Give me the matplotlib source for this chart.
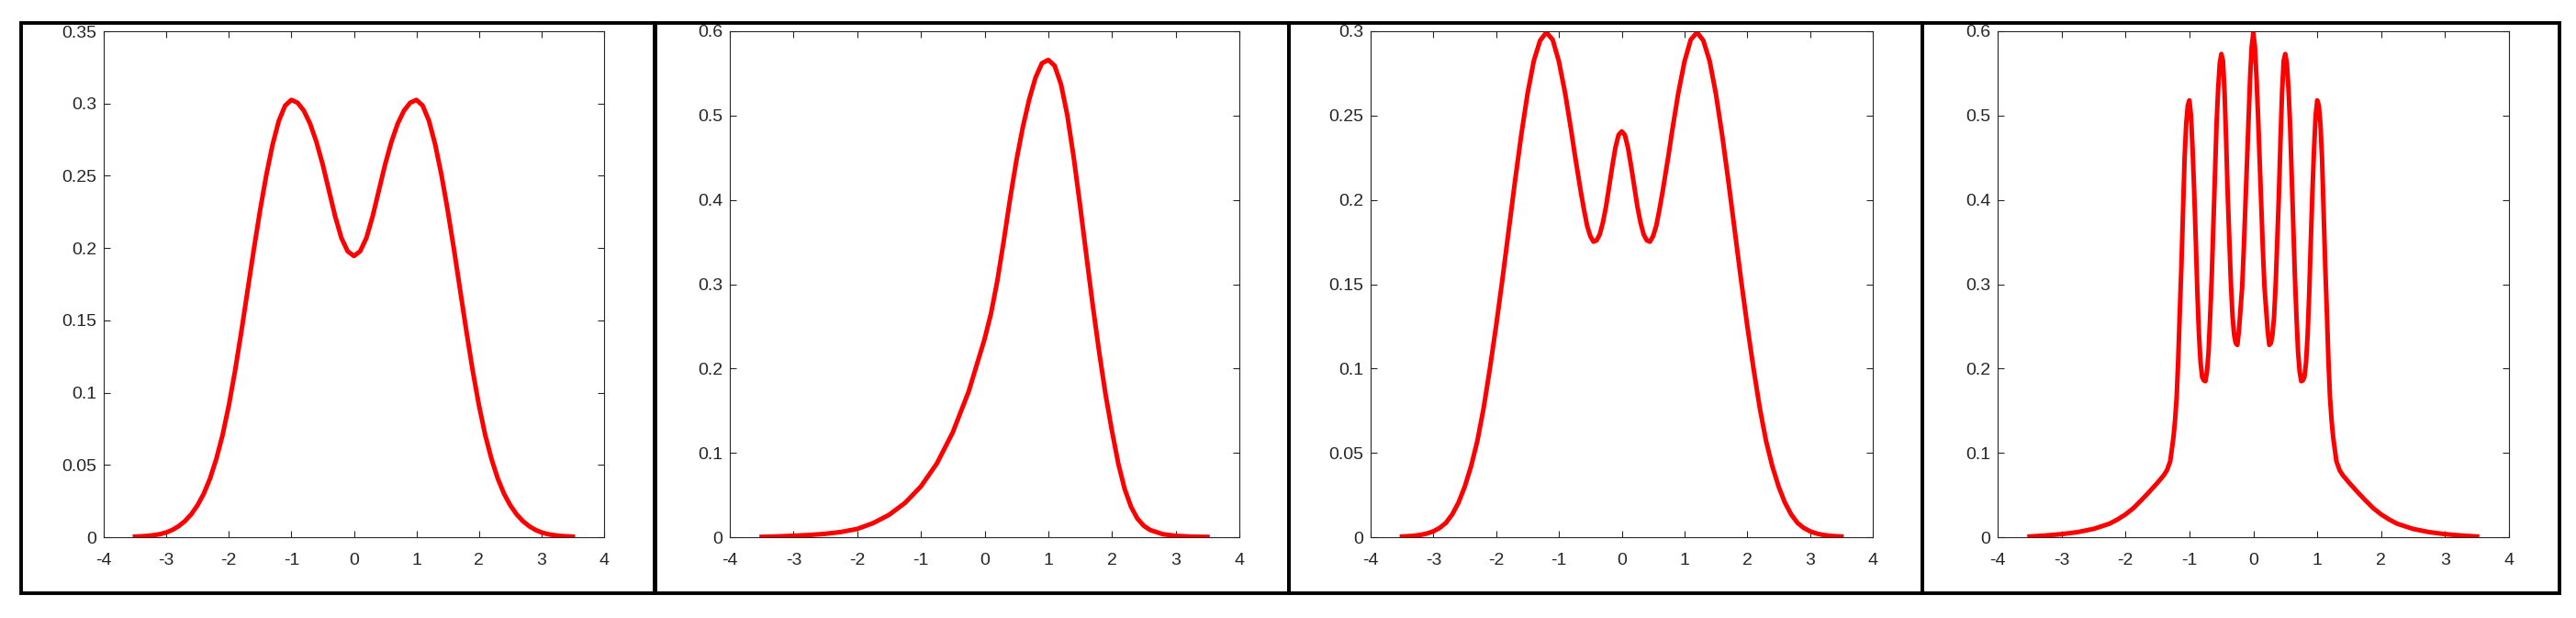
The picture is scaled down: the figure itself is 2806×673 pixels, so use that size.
import numpy as np
import matplotlib
matplotlib.use("Agg")
import matplotlib.pyplot as plt
from matplotlib.patches import Rectangle
from matplotlib.ticker import FixedLocator, FormatStrFormatter

plt.rcParams["font.family"] = ["Liberation Sans Narrow", "Liberation Sans", "DejaVu Sans"]
plt.rcParams["axes.unicode_minus"] = False

W, H = 2806, 673

# panel 1: symmetric two-hump density
x1 = [-3.5, -3.4, -3.3, -3.2, -3.1, -3.0, -2.9, -2.8, -2.7, -2.6, -2.5, -2.4, -2.3, -2.2, -2.1,
      -2.0, -1.9, -1.8, -1.7, -1.6, -1.5, -1.4, -1.3, -1.2, -1.1, -1.0, -0.9, -0.8, -0.7, -0.6,
      -0.5, -0.4, -0.3, -0.2, -0.1, 0.0, 0.1, 0.2, 0.3, 0.4, 0.5, 0.6, 0.7, 0.8, 0.9, 1.0, 1.1,
      1.2, 1.3, 1.4, 1.5, 1.6, 1.7, 1.8, 1.9, 2.0, 2.1, 2.2, 2.3, 2.4, 2.5, 2.6, 2.7, 2.8, 2.9,
      3.0, 3.1, 3.2, 3.3, 3.4, 3.5]
y1 = [0.0004, 0.0006, 0.0009, 0.0014, 0.0021, 0.0033, 0.0051, 0.0077, 0.0112, 0.0159, 0.0221,
      0.0301, 0.0406, 0.0541, 0.0706, 0.0911, 0.1151, 0.1421, 0.1706, 0.1991, 0.2261, 0.2506,
      0.2716, 0.2881, 0.2985, 0.3025, 0.3005, 0.2950, 0.2860, 0.2735, 0.2580, 0.2400, 0.2220,
      0.2070, 0.1978, 0.1945, 0.1978, 0.2070, 0.2220, 0.2400, 0.2580, 0.2735, 0.2860, 0.2950,
      0.3005, 0.3025, 0.2985, 0.2881, 0.2716, 0.2506, 0.2261, 0.1991, 0.1706, 0.1421, 0.1151,
      0.0911, 0.0706, 0.0541, 0.0406, 0.0301, 0.0221, 0.0159, 0.0112, 0.0077, 0.0051, 0.0033,
      0.0021, 0.0014, 0.0009, 0.0006, 0.0004]

# panel 2: skewed single peak
x2 = [-3.5, -3.25, -3.0, -2.75, -2.5, -2.25, -2.0, -1.75, -1.5, -1.25, -1.0, -0.75, -0.5,
      -0.25, 0.0, 0.1, 0.2, 0.3, 0.4, 0.5, 0.6, 0.7, 0.8, 0.9, 1.0, 1.1, 1.2, 1.3, 1.4, 1.5,
      1.6, 1.7, 1.8, 1.9, 2.0, 2.1, 2.2, 2.3, 2.4, 2.5, 2.6, 2.8, 3.0, 3.25, 3.5]
y2 = [0.0004, 0.0009, 0.0017, 0.0026, 0.0040, 0.0062, 0.0098, 0.0167, 0.0265, 0.0406, 0.0602,
      0.0873, 0.1242, 0.1727, 0.2350, 0.2650, 0.3040, 0.3510, 0.4010, 0.4470, 0.4860, 0.5190,
      0.5450, 0.5620, 0.5660, 0.5590, 0.5370, 0.5000, 0.4500, 0.3930, 0.3330, 0.2740, 0.2190,
      0.1690, 0.1260, 0.0870, 0.0570, 0.0360, 0.0220, 0.0135, 0.0085, 0.0035, 0.0016, 0.0007,
      0.0003]

# panel 3: three humps
x3 = [-3.5, -3.4, -3.3, -3.2, -3.1, -3.0, -2.9, -2.8, -2.7, -2.6, -2.5, -2.4, -2.3, -2.2, -2.1,
      -2.0, -1.9, -1.8, -1.7, -1.6, -1.5, -1.4, -1.3, -1.2, -1.1, -1.0, -0.9, -0.8, -0.75, -0.7,
      -0.65, -0.6, -0.55, -0.5, -0.45, -0.4, -0.35, -0.3, -0.25, -0.2, -0.15, -0.1, -0.05, 0.0,
      0.05, 0.1, 0.15, 0.2, 0.25, 0.3, 0.35, 0.4, 0.45, 0.5, 0.55, 0.6, 0.65, 0.7, 0.75, 0.8,
      0.9, 1.0, 1.1, 1.2, 1.3, 1.4, 1.5, 1.6, 1.7, 1.8, 1.9, 2.0, 2.1, 2.2, 2.3, 2.4, 2.5, 2.6,
      2.7, 2.8, 2.9, 3.0, 3.1, 3.2, 3.3, 3.4, 3.5]
y3 = [0.0004, 0.0006, 0.0009, 0.0014, 0.0022, 0.0035, 0.0055, 0.0085, 0.0135, 0.0205, 0.0300,
      0.0420, 0.0570, 0.0765, 0.1000, 0.1255, 0.1530, 0.1820, 0.2110, 0.2385, 0.2630, 0.2825,
      0.2945, 0.2993, 0.2950, 0.2820, 0.2630, 0.2400, 0.2275, 0.2160, 0.2045, 0.1940, 0.1845,
      0.1785, 0.1752, 0.1760, 0.1795, 0.1865, 0.1960, 0.2080, 0.2200, 0.2310, 0.2385, 0.2406,
      0.2385, 0.2310, 0.2200, 0.2080, 0.1960, 0.1865, 0.1795, 0.1760, 0.1752, 0.1785, 0.1845,
      0.1940, 0.2045, 0.2160, 0.2275, 0.2400, 0.2630, 0.2820, 0.2950, 0.2993, 0.2945, 0.2825,
      0.2630, 0.2385, 0.2110, 0.1820, 0.1530, 0.1255, 0.1000, 0.0765, 0.0570, 0.0420, 0.0300,
      0.0205, 0.0135, 0.0085, 0.0055, 0.0035, 0.0022, 0.0014, 0.0009, 0.0006, 0.0004]

# panel 4: five narrow peaks on broad tails
x4 = [-3.5, -3.25, -3.0, -2.75, -2.5, -2.25, -2.125, -2.0, -1.875, -1.75, -1.625, -1.5, -1.4,
      -1.35, -1.3, -1.25, -1.225, -1.2, -1.175, -1.15, -1.125, -1.1, -1.075, -1.05, -1.025,
      -1.0, -0.975, -0.95, -0.925, -0.9, -0.875, -0.85, -0.825, -0.8, -0.775, -0.75, -0.725,
      -0.7, -0.675, -0.65, -0.625, -0.6, -0.575, -0.55, -0.525, -0.5, -0.475, -0.45, -0.425,
      -0.4, -0.375, -0.35, -0.325, -0.3, -0.275, -0.25, -0.225, -0.2, -0.175, -0.15, -0.125,
      -0.1, -0.075, -0.05, -0.025, 0.0, 0.025, 0.05, 0.075, 0.1, 0.125, 0.15, 0.175, 0.2,
      0.225, 0.25, 0.275, 0.3, 0.325, 0.35, 0.375, 0.4, 0.425, 0.45, 0.475, 0.5, 0.525, 0.55,
      0.575, 0.6, 0.625, 0.65, 0.675, 0.7, 0.725, 0.75, 0.775, 0.8, 0.825, 0.85, 0.875, 0.9,
      0.925, 0.95, 0.975, 1.0, 1.025, 1.05, 1.075, 1.1, 1.125, 1.15, 1.175, 1.2, 1.225, 1.25,
      1.3, 1.35, 1.4, 1.5, 1.625, 1.75, 1.875, 2.0, 2.125, 2.25, 2.5, 2.75, 3.0, 3.25, 3.5]
y4 = [0.0008, 0.0020, 0.0036, 0.0060, 0.0098, 0.0160, 0.0210, 0.0270, 0.0345, 0.0440, 0.0540,
      0.0645, 0.0735, 0.0795, 0.0900, 0.1180, 0.1380, 0.1650, 0.2100, 0.2680, 0.3220, 0.3850,
      0.4500, 0.4900, 0.5120, 0.5180, 0.5000, 0.4600, 0.4100, 0.3520, 0.2900, 0.2400, 0.2070,
      0.1900, 0.1860, 0.1850, 0.1960, 0.2200, 0.2620, 0.3100, 0.3700, 0.4300, 0.4900, 0.5320,
      0.5620, 0.5730, 0.5650, 0.5280, 0.4700, 0.4050, 0.3520, 0.3000, 0.2620, 0.2400, 0.2300,
      0.2280, 0.2450, 0.2700, 0.2960, 0.3400, 0.3920, 0.4450, 0.4980, 0.5450, 0.5820, 0.5980,
      0.5820, 0.5450, 0.4980, 0.4450, 0.3920, 0.3400, 0.2960, 0.2700, 0.2450, 0.2280, 0.2300,
      0.2400, 0.2620, 0.3000, 0.3520, 0.4050, 0.4700, 0.5280, 0.5650, 0.5730, 0.5620, 0.5320,
      0.4900, 0.4300, 0.3700, 0.3100, 0.2620, 0.2200, 0.1960, 0.1850, 0.1860, 0.1900, 0.2070,
      0.2400, 0.2900, 0.3520, 0.4100, 0.4600, 0.5000, 0.5180, 0.5120, 0.4900, 0.4500, 0.3850,
      0.3220, 0.2680, 0.2100, 0.1650, 0.1380, 0.1180, 0.0900, 0.0795, 0.0735, 0.0645, 0.0540,
      0.0440, 0.0345, 0.0270, 0.0210, 0.0160, 0.0098, 0.0060, 0.0036, 0.0020, 0.0008]

xticks = [-4, -3, -2, -1, 0, 1, 2, 3, 4]
yticks1 = [0, 0.05, 0.1, 0.15, 0.2, 0.25, 0.3, 0.35]
yticks2 = [0, 0.1, 0.2, 0.3, 0.4, 0.5, 0.6]
yticks3 = [0, 0.05, 0.1, 0.15, 0.2, 0.25, 0.3]
yticks4 = [0, 0.1, 0.2, 0.3, 0.4, 0.5, 0.6]

# (data, y ticks, axes left/right px, frame left/right px)
panels = [
    (x1, y1, yticks1, (113, 658), (23, 714)),
    (x2, y2, yticks2, (795, 1350), (713, 1404)),
    (x3, y3, yticks3, (1493, 2040), (1404, 2094)),
    (x4, y4, yticks4, (2176, 2733), (2094, 2788)),
]

AX_TOP, AX_BOT = 34, 585
BOX_TOP, BOX_BOT = 25, 646

fig = plt.figure(figsize=(W / 100, H / 100), dpi=100)
fig.patch.set_facecolor("white")

for xs, ys, yt, (axl, axr), (bl, br) in panels:
    ax = fig.add_axes([axl / W, (H - AX_BOT) / H, (axr - axl) / W, (AX_BOT - AX_TOP) / H])
    ax.plot(xs, ys, color="#ff0000", lw=3.6, solid_joinstyle="round")
    ax.set_xlim(-4, 4)
    ax.set_ylim(0, yt[-1])
    ax.xaxis.set_major_locator(FixedLocator(xticks))
    ax.yaxis.set_major_locator(FixedLocator(yt))
    ax.xaxis.set_major_formatter(FormatStrFormatter("%g"))
    ax.yaxis.set_major_formatter(FormatStrFormatter("%g"))
    ax.tick_params(direction="in", length=5, width=0.8, color="#262626",
                   labelsize=14, labelcolor="#262626", top=True, right=True)
    ax.tick_params(axis="x", pad=12)
    ax.tick_params(axis="y", pad=5.5)
    for s in ax.spines.values():
        s.set_linewidth(0.8)
        s.set_color("#262626")

    fig.patches.append(Rectangle((bl / W, (H - BOX_BOT) / H), (br - bl) / W,
                                 (BOX_BOT - BOX_TOP) / H, transform=fig.transFigure,
                                 fill=False, edgecolor="black", lw=2.8, zorder=5))

fig.savefig("out.png", dpi=100, facecolor="white")
